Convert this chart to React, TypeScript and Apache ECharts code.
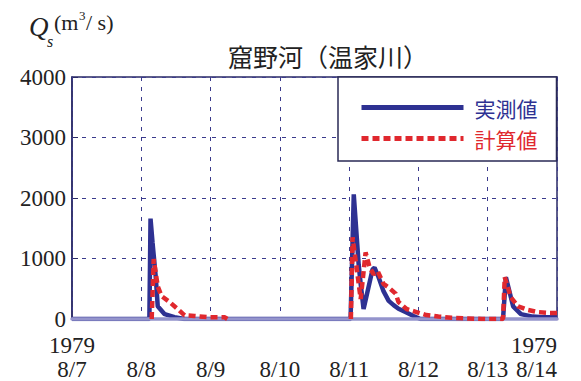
import React, { useEffect, useRef } from "react";
import * as echarts from "echarts";

const TITLE = "窟野河（温家川）";
const SERIES_NAMES = ["実測値", "計算値"];
const X_TICK_DATES = ["8/7", "8/8", "8/9", "8/10", "8/11", "8/12", "8/13", "8/14"];
const YEAR = "1979";
const Y_TICKS = [0, 1000, 2000, 3000, 4000];

// hours since 1979-08-07 00:00, Qs (m3/s)
const OBS_HOURS = [0, 26.8, 27.2, 27.9, 29.0, 29.7, 32.1, 35.5, 39, 96.5, 97.6, 99.3, 100, 101, 104.1, 104.8, 106.2, 107.9, 109.7, 111.4, 113.1, 115.5, 118.3, 120.7, 149.3, 150.3, 152.8, 155.5, 159.6, 163, 168];
const OBS_VALUES = [0, 0, 1660, 1260, 700, 210, 80, 30, 0, 0, 2060, 900, 580, 165, 820, 850, 690, 460, 300, 230, 170, 115, 50, 0, 0, 690, 210, 80, 40, 30, 30];

const CALC_HOURS = [27.6, 28.3, 29.7, 31, 33.8, 36.6, 39, 42.4, 47.6, 52.8, 53.8, 75, 96.6, 97.2, 100, 101.7, 103.1, 104.5, 105.9, 107.9, 109.7, 112.1, 113.1, 115.9, 119.3, 122.7, 126.9, 131.5, 137, 142, 149.3, 149.9, 152, 154.5, 157.9, 161.4, 165.5, 168];
const CALC_VALUES: (number | null)[] = [0, 990, 540, 380, 280, 165, 60, 50, 30, 30, 0, null, 0, 1350, 330, 1100, 850, 740, 790, 580, 520, 420, 280, 165, 115, 65, 40, 20, 10, 0, 0, 690, 360, 210, 150, 115, 100, 100];

const BLUE = "#2e3192";
const RED = "#e0282e";
const GRID = "#3a3a8c";
const SERIF = "Liberation Serif";
const CJK = "Noto Sans CJK JP";

export default function App() {
  const ref = useRef<HTMLDivElement>(null);
  useEffect(() => {
    if (!ref.current) return;
    const chart = echarts.init(ref.current, undefined, { renderer: "svg" });
    const obs = OBS_HOURS.map((h, i) => [h, OBS_VALUES[i]]);
    const calc = CALC_HOURS.map((h, i) => [h, CALC_VALUES[i]]);
    chart.setOption({
      animation: false,
      backgroundColor: "#ffffff",
      textStyle: { fontFamily: SERIF },
      title: {
        text: TITLE,
        left: 223,
        top: 38,
        textStyle: { fontFamily: CJK, fontSize: 25, fontWeight: "normal", color: "#222" },
      },
      graphic: [
        { type: "text", left: 29, top: 13, style: { text: "Q", font: `italic 27px ${SERIF}`, fill: "#222" } },
        { type: "text", left: 47, top: 33, style: { text: "s", font: `italic 16px ${SERIF}`, fill: "#222" } },
        { type: "text", left: 54, top: 11, style: { text: "(m", font: `22px ${SERIF}`, fill: "#222" } },
        { type: "text", left: 79, top: 9, style: { text: "3", font: `13px ${SERIF}`, fill: "#222" } },
        { type: "text", left: 86, top: 11, style: { text: "/ s)", font: `22px ${SERIF}`, fill: "#222" } },
      ],
      legend: {
        orient: "vertical",
        left: 338,
        top: 77,
        padding: [20, 19, 12, 21],
        itemWidth: 102,
        itemHeight: 21,
        itemGap: 10,
        backgroundColor: "#ffffff",
        borderColor: "#2a2a55",
        borderWidth: 1.5,
        borderRadius: 0,
        itemStyle: { opacity: 0 },
        lineStyle: { width: 5 },
        data: [
          { name: SERIES_NAMES[0], textStyle: { color: BLUE } },
          { name: SERIES_NAMES[1], textStyle: { color: RED } },
        ],
        textStyle: { fontFamily: CJK, fontSize: 21, lineHeight: 21, padding: [0, 0, 0, 6] },
      },
      grid: {
        left: 72,
        right: 24,
        top: 77,
        bottom: 61,
        show: true,
        borderColor: "#2a2a66",
        borderWidth: 1.5,
      },
      xAxis: {
        type: "value",
        min: 0,
        max: 168,
        interval: 24,
        z: 2.5,
        axisLine: { show: true, onZero: false, lineStyle: { color: "#9494cc", width: 3.5 } },
        axisTick: { show: false },
        splitLine: { show: true, lineStyle: { color: GRID, type: [4, 6], width: 1 } },
        axisLabel: {
          margin: 14,
          fontFamily: SERIF,
          fontSize: 23,
          lineHeight: 24,
          color: "#222",
          alignMaxLabel: "right",
          formatter: (v: number) => {
            const i = Math.round(v / 24);
            const d = X_TICK_DATES[i] ?? "";
            if (i === 0 || i === X_TICK_DATES.length - 1) return `${YEAR}\n${d}`;
            return `\n${d}`;
          },
        },
      },
      yAxis: {
        type: "value",
        min: Y_TICKS[0],
        max: Y_TICKS[Y_TICKS.length - 1],
        interval: 1000,
        axisLine: { show: true, lineStyle: { color: "#2a2a66", width: 1.5 } },
        axisTick: { show: true, inside: true, length: 6, lineStyle: { color: "#2a2a66" } },
        splitLine: { show: true, lineStyle: { color: GRID, type: [4, 6], width: 1 } },
        axisLabel: {
          margin: 6,
          fontFamily: SERIF,
          fontSize: 23,
          color: "#222",
          formatter: (v: number) => String(v),
        },
      },
      series: [
        {
          name: SERIES_NAMES[0],
          type: "line",
          data: obs,
          symbol: "none",
          lineStyle: { color: BLUE, width: 4.5 },
          itemStyle: { color: BLUE },
          z: 2,
        },
        {
          name: SERIES_NAMES[1],
          type: "line",
          data: calc,
          symbol: "none",
          connectNulls: false,
          lineStyle: { color: RED, width: 4.5, type: [7, 4] },
          itemStyle: { color: RED },
          z: 3,
        },
      ],
    });
    return () => chart.dispose();
  }, []);
  return <div ref={ref} style={{ width: 581, height: 381, position: "absolute", left: 0, top: 0 }} />;
}
